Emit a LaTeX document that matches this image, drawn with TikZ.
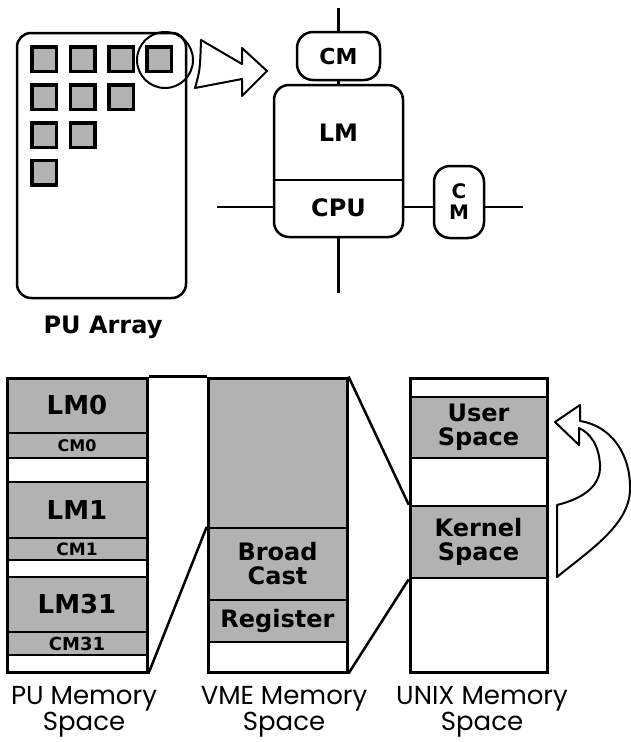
\documentclass[tikz,border=0pt]{standalone}
\usepackage{fontspec}
\setmainfont{Poppins}
\newfontfamily\chicago{DejaVu Sans}
\usepackage{tikz}

\tikzset{
	shell/.style={draw, line width=2.5pt, inner sep=0pt},
	chip/.style={draw, line width=3.5pt, fill=black!30, minimum size=24.5, inner sep=0pt},
	seg/.style={draw, line width=2.5pt, fill=black!30, inner sep=0pt, minimum width=140},
	hole/.style={seg, fill=white},
	tag/.style={font=\chicago\bfseries\fontsize{#1}{#1}\selectfont, align=center},
	tag/.default=24,
	caption/.style={font=\fontsize{26}{25}\selectfont, align=center, inner sep=0pt},
}

\begin{document}
\begin{tikzpicture}[x=1pt,y=-1pt]
		\useasboundingbox (0,0) rectangle (630,742);
		% PU array
		\node[shell, rounded corners=14pt, minimum width=169, minimum height=265] (array) at (101.5,165.5) {};
		\node[chip] (p11) at (44,59) {};
		\node[chip] (p12) at (82.5,59) {};
		\node[chip] (p13) at (121,59) {};
		\node[chip] (p14) at (159,59) {};
		\node[chip] (p21) at (44,97) {};
		\node[chip] (p22) at (82.5,97) {};
		\node[chip] (p23) at (121,97) {};
		\node[chip] (p31) at (44,135) {};
		\node[chip] (p32) at (82.5,135) {};
		\node[chip] (p41) at (44,172.5) {};
		\node[shell, circle, line width=2pt, minimum size=56] (focus) at (165,60) {};
		\node[tag, anchor=base] (arraylabel) at (103,333) {PU Array};
		\draw[line width=2pt, line join=round] (195,88) .. controls (200,70) .. (201,40) -- (242,64) -- (242,48)
			-- (267,71) -- (242,96) -- (242,79) -- cycle;
		%
		% one PU
		\node[shell, rounded corners=16pt, minimum width=83, minimum height=48, tag=22] (cmtop) at (338.5,56) {CM};
		\node[shell, rounded corners=15pt, minimum width=129, minimum height=152] (pe) at (338.5,161) {};
		\node[tag] (lm) at (338.5,133) {LM};
		\node[tag] (cpu) at (338.5,208) {CPU};
		\node[shell, rounded corners=16pt, minimum width=50, minimum height=72, font=\chicago\bfseries\fontsize{20}{21}\selectfont, align=center] (cmright) at (459,202) {C\\M};
		\coordinate (split) at (338.5,180);
		\coordinate (n) at (338.5,8);
		\coordinate (s) at (338.5,293);
		\coordinate (w) at (217,207);
		\coordinate (e) at (523,207);
		%
		\path[draw, line width=2.5pt]
		% vertical lines
		(n) edge (cmtop.north)
		(cmtop.south) edge (pe.north)
		(pe.south) edge (s)
		% horizontal lines
		(split -| pe.west) edge (split -| pe.east)
		(w) edge (w -| pe.west)
		(w -| pe.east) edge (w -| cmright.west)
		(w -| cmright.east) edge (e);
		%
		% PU memory space
		\node[seg, tag=26, minimum height=55] (lm0) at (77,405.5) {LM0};
		\node[seg, tag=16, minimum height=25] (cm0) at (77,445.5) {CM0};
		\node[hole, minimum height=24] (gap0) at (77,470) {};
		\node[seg, tag=26, minimum height=56] (lm1) at (77,510) {LM1};
		\node[seg, tag=17, minimum height=22] (cm1) at (77,549) {CM1};
		\node[hole, minimum height=17] (gap1) at (77,568.5) {};
		\node[seg, tag=26, minimum height=55] (lm31) at (77,604.5) {LM31};
		\node[seg, tag=18, minimum height=23] (cm31) at (77,643.5) {CM31};
		\node[hole, minimum height=17] (gap31) at (77,663.5) {};
		\node[shell, line width=3pt, minimum width=140, minimum height=294] (pu) at (77,525) {};
		\node[caption] (pucap) at (84,712) {PU Memory\\Space};
		%
		% VME memory space
		\node[seg, minimum width=139, minimum height=150] (vmetop) at (277.5,453) {};
		\node[seg, tag, minimum width=139, minimum height=72] (broad) at (277.5,564) {Broad\\Cast};
		\node[seg, tag, minimum width=139, minimum height=42] (register) at (277.5,621) {Register};
		\node[hole, minimum width=139, minimum height=30] (vmegap) at (277.5,657) {};
		\node[shell, line width=3pt, minimum width=139, minimum height=294] (vme) at (277.5,525) {};
		\node[caption] (vmecap) at (284,712) {VME Memory\\Space};
		%
		% UNIX memory space
		\node[hole, minimum width=137, minimum height=19] (unixtop) at (478.5,387.5) {};
		\node[seg, tag, minimum width=137, minimum height=61] (user) at (478.5,427.5) {User\\Space};
		\node[hole, minimum width=137, minimum height=48] (unixmid) at (478.5,482) {};
		\node[seg, tag, minimum width=137, minimum height=72] (kernel) at (478.5,542) {Kernel\\Space};
		\node[hole, minimum width=137, minimum height=94] (unixlow) at (478.5,625) {};
		\node[shell, line width=3pt, minimum width=137, minimum height=294] (unix) at (478.5,525) {};
		\node[caption] (unixcap) at (482,712) {UNIX Memory\\Space};
		%
		\path[draw, line width=2.5pt]
		% mapping lines
		(pu.north east) edge (vme.north west)
		(pu.south east) edge (broad.north west)
		(vme.north east) edge (kernel.north west)
		(vme.south east) edge (kernel.south west);
		%
		\draw[line width=2pt, line join=round] (555,422) -- (580,405) -- (580,421)
			.. controls (612,426) and (631,455) .. (630,490)
			.. controls (629,525) and (590,550) .. (557,577) -- (557,505)
			.. controls (585,498) and (601,485) .. (600,465)
			.. controls (599,445) and (590,433) .. (579,428) -- (579,445) -- cycle;
\end{tikzpicture}
\end{document}
